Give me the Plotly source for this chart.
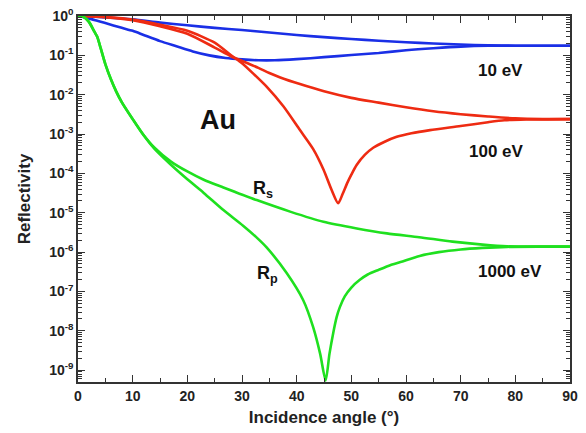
import plotly.graph_objects as go

# ---- data (angle in degrees, reflectivity) ----
blue_s_x = [0, 5, 10, 15, 20, 25, 30, 35, 40, 45, 50, 55, 60, 65, 70, 75, 80, 85, 90]
blue_s_y = [1, 0.92, 0.82, 0.68, 0.58, 0.5, 0.44, 0.38, 0.33, 0.29, 0.26, 0.235, 0.215, 0.2,
            0.188, 0.18, 0.176, 0.175, 0.175]

blue_p_x = [0, 2, 5, 8, 10, 12, 15, 18, 21, 24, 27, 30, 33, 36, 40, 45, 50, 55, 60, 65, 70,
            75, 80, 85, 90]
blue_p_y = [1, 0.87, 0.66, 0.5, 0.42, 0.33, 0.23, 0.17, 0.126, 0.1, 0.086, 0.079, 0.075, 0.075,
            0.08, 0.09, 0.102, 0.115, 0.135, 0.152, 0.167, 0.175, 0.176, 0.175, 0.175]

red_s_x = [0, 5, 10, 15, 20, 25, 28, 30, 33, 35, 37, 40.6, 45, 50, 55, 60, 65, 70, 75, 80, 85, 90]
red_s_y = [1, 0.93, 0.78, 0.55, 0.355, 0.158, 0.095, 0.072, 0.048, 0.0355, 0.0275, 0.0186,
           0.0122, 0.0083, 0.0063, 0.0048, 0.0038, 0.0032, 0.0028, 0.0025, 0.0024, 0.0024]

red_p_x = [0, 5, 10, 15, 20, 25, 28, 30, 32, 34.5, 37.6, 40.6, 43, 44.9, 46.4, 47.6, 48.4,
           49.2, 50, 51, 52.5, 54, 56, 58.3, 61, 64.4, 70, 75, 78, 82, 90]
red_p_y = [1, 0.94, 0.81, 0.6, 0.42, 0.21, 0.1, 0.063, 0.035, 0.016, 0.005, 0.00126, 0.00042,
           0.000126, 3.8e-5, 1.75e-5, 3.0e-5, 5.5e-5, 9.3e-5, 1.66e-4, 3.0e-4, 4.5e-4, 6.3e-4,
           8.5e-4, 1.05e-3, 1.26e-3, 1.6e-3, 2.0e-3, 2.24e-3, 2.35e-3, 2.4e-3]

green_s_x = [0, 1, 2, 3, 3.5, 4, 5, 6, 7, 8, 10, 12, 14, 17, 20, 23, 26.6, 32.7, 38.8, 44.9,
             51, 56.5, 62.4, 68.5, 74, 78.5, 85, 90]
green_s_y = [1, 0.95, 0.71, 0.4, 0.3, 0.18, 0.06, 0.025, 0.012, 0.0065, 0.0024, 0.00095, 0.00045,
             0.0002, 1.12e-4, 6.9e-5, 4.4e-5, 2.1e-5, 1.07e-5, 5.9e-6, 4e-6, 3e-6, 2.4e-6,
             1.85e-6, 1.55e-6, 1.4e-6, 1.38e-6, 1.38e-6]

green_p_x = [0, 1, 2, 3, 3.5, 4, 5, 6, 7, 8, 10, 12, 14, 17, 20, 23, 26.6, 30.2, 32.7, 34.5,
             38.2, 41.2, 43, 44.3, 45.3, 46.0, 46.7, 47.3, 47.9, 48.8, 50, 51.5, 53, 55, 57,
             59, 62.5, 66, 70, 74, 78.5, 85, 90]
green_p_y = [1, 0.95, 0.71, 0.4, 0.3, 0.18, 0.06, 0.025, 0.012, 0.0065, 0.0024, 0.00093,
             0.00042, 0.000166, 7.1e-5, 3.2e-5, 1.17e-5, 4.7e-6, 2.34e-6, 1.32e-6, 2.9e-7,
             6e-8, 1.26e-8, 2.6e-9, 5.5e-10, 2.6e-9, 9e-9, 2.2e-8, 4e-8, 7.5e-8, 1.26e-7,
             1.95e-7, 2.7e-7, 3.55e-7, 4.6e-7, 5.6e-7, 8e-7, 1.0e-6, 1.17e-6, 1.28e-6,
             1.36e-6, 1.38e-6, 1.38e-6]

x_ticks = [0, 10, 20, 30, 40, 50, 60, 70, 80, 90]
y_exps = [0, -1, -2, -3, -4, -5, -6, -7, -8, -9]

BLUE = "#1a2fe6"
RED = "#ee2b12"
GREEN = "#1fe01f"
FONT = "Liberation Sans, Arial, sans-serif"
INK = "#222222"

fig = go.Figure()
for xs, ys, c in [(blue_s_x, blue_s_y, BLUE), (blue_p_x, blue_p_y, BLUE),
                  (red_s_x, red_s_y, RED), (red_p_x, red_p_y, RED),
                  (green_s_x, green_s_y, GREEN), (green_p_x, green_p_y, GREEN)]:
    fig.add_trace(go.Scatter(x=xs, y=ys, mode="lines",
                             line=dict(color=c, width=2.6, shape="spline", smoothing=0.7),
                             showlegend=False, hoverinfo="skip"))

axis_common = dict(showline=True, linecolor="#333333", linewidth=1.5, mirror="allticks",
                   ticks="inside", tickcolor="#333333", tickwidth=1.3, showgrid=False,
                   zeroline=False, automargin=False,
                   tickfont=dict(family=FONT, size=14, color=INK))

fig.update_xaxes(range=[0, 90], tickvals=x_ticks,
                 ticktext=["<b>%d</b>" % v for v in x_ticks], ticklen=7,
                 minor=dict(dtick=5, ticks="inside", ticklen=4, tickcolor="#333333"),
                 title=dict(text="<b>Incidence angle (°)</b>",
                            font=dict(family=FONT, size=17, color=INK), standoff=9),
                 **axis_common)
fig.update_yaxes(type="log", range=[-9.3, 0], tickvals=[10 ** e for e in y_exps],
                 ticktext=["<b>10<sup>%d</sup></b>" % e for e in y_exps], ticklen=7,
                 minor=dict(dtick="D1", ticks="inside", ticklen=4, tickcolor="#333333"),
                 title=dict(text="<b>Reflectivity</b>",
                            font=dict(family=FONT, size=17, color=INK), standoff=14),
                 **axis_common)

# labels: x in degrees, y as log10(reflectivity)
annots = [
    dict(x=25.6, y=-2.64, text="<b>Au</b>", size=27),
    dict(x=77.2, y=-1.39, text="<b>10 eV</b>", size=17),
    dict(x=76.6, y=-3.45, text="<b>100 eV</b>", size=17),
    dict(x=79.0, y=-6.5, text="<b>1000 eV</b>", size=17),
    dict(x=33.8, y=-4.42, text="<b>R<sub>s</sub></b>", size=18),
    dict(x=34.6, y=-6.56, text="<b>R<sub>p</sub></b>", size=18),
]
for a in annots:
    fig.add_annotation(x=a["x"], y=a["y"], xref="x", yref="y", text=a["text"],
                       showarrow=False, font=dict(family=FONT, size=a["size"], color="#111111"))

fig.update_layout(width=586, height=433, margin=dict(l=78, r=16, t=16, b=51),
                  paper_bgcolor="white", plot_bgcolor="white")
# remove the page's default body margin so the figure fills the window exactly
fig.write_html("out.html", config={"displayModeBar": False},
               post_script="document.body.style.margin='0';document.body.style.overflow='hidden';")
